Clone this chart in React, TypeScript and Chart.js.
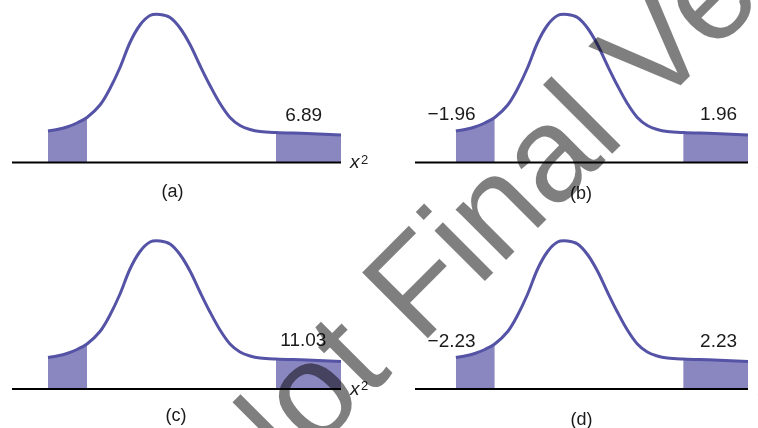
import React, { useEffect, useRef } from "react";
import { Chart, registerables } from "chart.js";

Chart.register(...registerables);

// ---- data -------------------------------------------------------------
// Shared bell-curve shape: x in panel units, y = height above the axis
const curveX = [36, 45, 55, 65, 75, 88, 98, 108, 118, 128, 138, 148, 158, 168, 178, 188, 198, 208, 218, 228, 238, 248, 264, 295, 329];
const curveY = [31.5, 33, 35.5, 39.5, 45, 57.5, 74, 95, 120, 137.5, 147, 148, 145, 134.5, 118, 97, 77, 59, 45, 37, 33, 31, 30, 29, 27.5];

// shaded tails (x ranges)
const leftTail = [36, 75];
const rightTail = [264, 329];

// panels
const panelCaptions = ["(a)", "(b)", "(c)", "(d)"];
const panelLeftValues = ["", "\u22121.96", "", "\u22122.23"];
const panelRightValues = ["6.89", "1.96", "11.03", "2.23"];
const panelAxisNames = ["x", "z", "x", "z"];
const panelAxisSups = ["2", "", "2", ""];
const panelXMin = [0, -5, 0, -5];
const panelXMax = [329, 329, 329, 329];

const watermarkText = "Not Final Version";

// ---- styles / layout ---------------------------------------------------
const CURVE = "#5553a6";
const SHADE = "#8a86c0";
const TEXT = "#1a1a1a";
const FONT = "'Liberation Sans', Arial, sans-serif";
const TENSION = 0.35;

const panelLayout = [
  { left: 0, top: 0, padding: { left: 12, right: 38, top: 12.5, bottom: 51.5 }, valueY: 41.8, capX: 160.5, capY: -34.2 },
  { left: 379, top: 0, padding: { left: 36, right: 10, top: 12.5, bottom: 51.5 }, valueY: 42.5, capX: 161.5, capY: -36.5 },
  { left: 0, top: 214, padding: { left: 12, right: 38, top: 25, bottom: 39 }, valueY: 43.3, capX: 164, capY: -32 },
  { left: 379, top: 214, padding: { left: 36, right: 10, top: 25, bottom: 39 }, valueY: 41.7, capX: 162, capY: -35.7 },
];
const leftValueX = 31.7;
const rightValueX = [291.7, 299.5, 291.3, 299.5];
const axisNameX = [338, 339, 338, 339];

type LabelItem = { text: string; x: number; y: number; font: string; align: CanvasTextAlign; sup?: string };

const labelPlugin = (items: LabelItem[]) => ({
  id: "panelLabels",
  afterDatasetsDraw(chart: any) {
    const { ctx, scales } = chart;
    const xs = scales.x;
    const ys = scales.y;
    ctx.save();
    ctx.fillStyle = TEXT;
    ctx.textBaseline = "alphabetic";
    for (const it of items) {
      if (!it.text) continue;
      const px = xs.getPixelForValue(it.x);
      const py = ys.getPixelForValue(it.y);
      ctx.font = it.font;
      ctx.textAlign = it.align;
      ctx.fillText(it.text, px, py);
      if (it.sup) {
        const w = ctx.measureText(it.text).width;
        ctx.font = `13px ${FONT}`;
        ctx.textAlign = "left";
        ctx.fillText(it.sup, px + w + 1.5, py - 4.5);
      }
    }
    ctx.restore();
  },
});

function Panel({ idx }: { idx: number }) {
  const ref = useRef<HTMLCanvasElement>(null);
  const lay = panelLayout[idx];
  useEffect(() => {
    const pts = curveX.map((x, i) => ({ x, y: curveY[i] }));
    const tail = (r: number[]) => pts.filter((p) => p.x >= r[0] && p.x <= r[1]);
    const items: LabelItem[] = [
      { text: panelLeftValues[idx], x: leftValueX, y: lay.valueY, font: `19px ${FONT}`, align: "center" },
      { text: panelRightValues[idx], x: rightValueX[idx], y: lay.valueY, font: `19px ${FONT}`, align: "center" },
      { text: panelCaptions[idx], x: lay.capX, y: lay.capY, font: `18px ${FONT}`, align: "center" },
      { text: panelAxisNames[idx], x: axisNameX[idx], y: -5.5, font: `italic 19px ${FONT}`, align: "left", sup: panelAxisSups[idx] },
    ];
    const tailDs = (r: number[]) => ({
      data: tail(r),
      borderColor: "rgba(0,0,0,0)",
      borderWidth: 0,
      backgroundColor: SHADE,
      fill: "origin",
      pointRadius: 0,
      tension: TENSION,
      order: 2,
      clip: false,
    });
    const chart = new Chart(ref.current as HTMLCanvasElement, {
      type: "line",
      data: {
        datasets: [
          {
            data: pts,
            borderColor: CURVE,
            borderWidth: 3,
            pointRadius: 0,
            fill: false,
            tension: TENSION,
            order: 0,
            clip: false,
          } as any,
          {
            data: [
              { x: panelXMin[idx], y: 0 },
              { x: panelXMax[idx], y: 0 },
            ],
            borderColor: "#000",
            borderWidth: 2,
            pointRadius: 0,
            fill: false,
            order: 1,
            clip: false,
          } as any,
          tailDs(leftTail) as any,
          tailDs(rightTail) as any,
        ],
      },
      options: {
        animation: false,
        responsive: false,
        maintainAspectRatio: false,
        events: [],
        layout: { padding: lay.padding, autoPadding: false } as any,
        scales: {
          x: { type: "linear", display: false, min: panelXMin[idx], max: panelXMax[idx] },
          y: { type: "linear", display: false, min: 0, max: 150 },
        },
        plugins: {
          legend: { display: false },
          tooltip: { enabled: false },
          title: { display: false },
        },
      },
      plugins: [labelPlugin(items) as any],
    });
    return () => chart.destroy();
  }, [idx]);
  return (
    <canvas
      ref={ref}
      width={379}
      height={214}
      style={{ position: "absolute", left: lay.left, top: lay.top, width: 379, height: 214 }}
    />
  );
}

function Watermark() {
  const ref = useRef<HTMLCanvasElement>(null);
  useEffect(() => {
    const c = ref.current;
    if (!c) return;
    const ctx = c.getContext("2d");
    if (!ctx) return;
    ctx.clearRect(0, 0, c.width, c.height);
    ctx.save();
    ctx.translate(245, 521);
    ctx.rotate(-Math.PI / 4);
    ctx.font = `135px ${FONT}`;
    ctx.fillStyle = "rgba(0,0,0,0.5)";
    ctx.textBaseline = "alphabetic";
    ctx.textAlign = "left";
    ctx.fillText(watermarkText, 0, 0);
    ctx.restore();
  }, []);
  return (
    <canvas
      ref={ref}
      width={758}
      height={428}
      style={{ position: "absolute", left: 0, top: 0, width: 758, height: 428, pointerEvents: "none" }}
    />
  );
}

export default function App() {
  return (
    <div
      style={{
        position: "fixed",
        left: 0,
        top: 0,
        width: 758,
        height: 428,
        overflow: "hidden",
        background: "#fff",
      }}
    >
      {[0, 1, 2, 3].map((i) => (
        <Panel key={i} idx={i} />
      ))}
      <Watermark />
    </div>
  );
}
